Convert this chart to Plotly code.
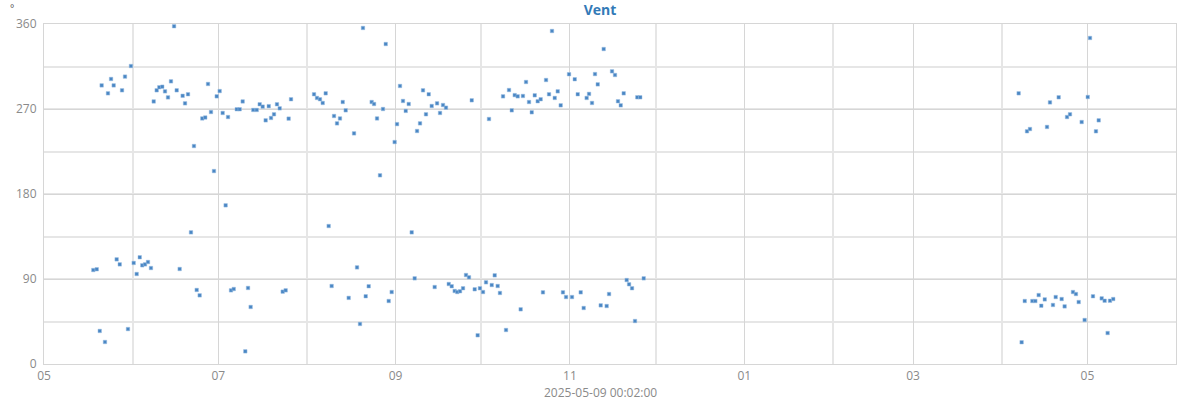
import plotly.graph_objects as go

title_text = "Vent"
unit_label = "°"
axis_title = "2025-05-09 00:02:00"

times_2024 = [
    "2024-05-18 06:00", "2024-05-19 11:00", "2024-05-20 12:00", "2024-05-21 04:00", "2024-05-22 08:00",
    "2024-05-23 09:00", "2024-05-24 11:00", "2024-05-25 09:00", "2024-05-26 10:00", "2024-05-27 12:00",
    "2024-05-28 07:00", "2024-05-29 08:00", "2024-05-30 09:00", "2024-05-31 10:00", "2024-06-01 09:00",
    "2024-06-02 10:00", "2024-06-03 12:00", "2024-06-04 09:00", "2024-06-05 08:00", "2024-06-06 09:00",
    "2024-06-07 10:00", "2024-06-08 09:00", "2024-06-09 10:00", "2024-06-10 08:00", "2024-06-11 09:00",
    "2024-06-12 08:00", "2024-06-13 09:00", "2024-06-14 10:00", "2024-06-15 12:00", "2024-06-16 10:00",
    "2024-06-17 11:00", "2024-06-18 12:00", "2024-06-19 08:00", "2024-06-20 09:00", "2024-06-21 10:00",
    "2024-06-22 11:00", "2024-06-23 10:00", "2024-06-24 11:00", "2024-06-25 09:00", "2024-06-26 10:00",
    "2024-06-27 09:00", "2024-06-28 10:00", "2024-06-29 11:00", "2024-06-30 10:00", "2024-07-01 11:00",
    "2024-07-02 12:00", "2024-07-03 13:00", "2024-07-04 09:00", "2024-07-05 10:00", "2024-07-06 09:00",
    "2024-07-07 10:00", "2024-07-08 11:00", "2024-07-09 12:00", "2024-07-10 10:00", "2024-07-11 09:00",
    "2024-07-12 07:00", "2024-07-13 05:00", "2024-07-14 10:00", "2024-07-15 11:00", "2024-07-16 12:00",
    "2024-07-17 13:00", "2024-07-18 15:00", "2024-07-19 10:00", "2024-07-20 11:00", "2024-07-21 12:00",
    "2024-07-22 11:00", "2024-07-23 12:00", "2024-07-24 13:00", "2024-07-25 14:00", "2024-07-26 10:00",
    "2024-08-03 11:00", "2024-08-04 12:00", "2024-08-05 13:00", "2024-08-06 12:00", "2024-08-07 13:00",
    "2024-08-08 14:00", "2024-08-09 15:00", "2024-08-10 11:00", "2024-08-11 12:00", "2024-08-12 13:00",
    "2024-08-13 12:00", "2024-08-14 13:00", "2024-08-15 14:00", "2024-08-17 11:00", "2024-08-18 12:00",
    "2024-08-19 13:00", "2024-08-20 14:00", "2024-08-21 13:00", "2024-08-22 14:00", "2024-08-23 15:00",
    "2024-08-24 11:00", "2024-08-25 12:00", "2024-08-26 13:00", "2024-08-27 14:00", "2024-08-28 13:00",
    "2024-08-29 14:00", "2024-08-30 15:00", "2024-08-31 16:00", "2024-09-01 12:00", "2024-09-02 13:00",
    "2024-09-03 14:00", "2024-09-04 13:00", "2024-09-05 14:00", "2024-09-06 15:00", "2024-09-07 16:00",
    "2024-09-08 12:00", "2024-09-09 13:00", "2024-09-10 14:00", "2024-09-11 15:00", "2024-09-12 14:00",
    "2024-09-13 15:00", "2024-09-14 16:00", "2024-09-15 12:00", "2024-09-16 13:00", "2024-09-17 14:00",
    "2024-09-18 15:00", "2024-09-19 14:00", "2024-09-20 15:00", "2024-09-21 16:00", "2024-09-22 14:00",
    "2024-09-23 13:00", "2024-09-24 14:00", "2024-09-25 15:00", "2024-09-26 16:00", "2024-09-27 15:00",
    "2024-09-28 16:00", "2024-09-29 17:00", "2024-09-30 12:00", "2024-10-01 14:00", "2024-10-02 15:00",
    "2024-10-03 16:00", "2024-10-04 15:00", "2024-10-05 16:00", "2024-10-06 17:00", "2024-10-07 12:00",
    "2024-10-08 14:00", "2024-10-09 15:00", "2024-10-10 16:00", "2024-10-11 15:00", "2024-10-12 16:00",
    "2024-10-13 17:00", "2024-10-14 18:00", "2024-10-15 13:00", "2024-10-16 15:00", "2024-10-17 16:00",
    "2024-10-18 15:00", "2024-10-19 16:00", "2024-10-20 17:00", "2024-10-21 18:00", "2024-10-22 13:00",
    "2024-10-23 15:00", "2024-10-24 16:00", "2024-10-25 17:00", "2024-10-26 16:00", "2024-10-27 17:00",
    "2024-10-28 18:00", "2024-10-29 13:00", "2024-10-30 15:00", "2024-10-31 16:00", "2024-11-01 17:00",
    "2024-11-02 16:00", "2024-11-03 17:00", "2024-11-04 18:00", "2024-11-05 19:00", "2024-11-06 20:00",
    "2024-11-07 16:00", "2024-11-08 17:00", "2024-11-09 18:00", "2024-11-10 17:00", "2024-11-11 18:00",
    "2024-11-12 19:00", "2024-11-13 20:00", "2024-11-14 16:00", "2024-11-15 17:00", "2024-11-16 18:00",
    "2024-11-17 19:00", "2024-11-18 18:00", "2024-11-19 19:00", "2024-11-20 20:00", "2024-11-21 16:00",
    "2024-11-22 17:00", "2024-11-23 18:00", "2024-11-24 13:00", "2024-11-25 14:00", "2024-11-26 19:00",
]

values_2024 = [
    99.5, 100.3, 35, 295, 23.3, 286.6, 301.8, 295, 110.8, 105.5,
    289.8, 304.3, 37, 315.5, 107, 95.3, 113, 104.5, 105.5, 108,
    101.6, 278, 289.8, 293, 293.6, 288.7, 282.3, 299.3, 357.6, 289.8,
    100.6, 284, 276, 285.6, 139.4, 230.8, 78.4, 72.7, 260, 261,
    296.5, 266.8, 204.3, 283.4, 289, 265.8, 168, 261.5, 78, 79.4,
    269.7, 269.7, 278, 13.4, 80.5, 60.4, 269, 269, 275, 272.5,
    258, 273, 260.5, 264.4, 275, 270.7, 76.6, 78, 259.8, 280.3,
    285.6, 281.7, 280.3, 276.4, 286.6, 146.1, 82.6, 262.6, 254.8, 260,
    277.4, 268.6, 70, 244.2, 102.3, 42.4, 355.8, 71.7, 82.3, 277.4,
    275.3, 260, 199.8, 270, 338.8, 66.7, 76.2, 235, 254, 294.4,
    278.5, 268, 275.3, 139.4, 90.7, 246.7, 254.8, 289.8, 264.4, 285.6,
    273.2, 81.5, 276, 265.8, 274.2, 271.4, 84.7, 82.3, 77.3, 76.2,
    77, 80.2, 94.2, 91.8, 279.2, 79.1, 30.4, 80.2, 76.2, 86.5,
    259.4, 83.6, 93.9, 82.6, 75.2, 283.4, 36, 290.1, 268.6, 284.7,
    283.4, 57.9, 283.8, 298.6, 277.4, 266.5, 284.5, 278.2, 280.3, 75.9,
    300.7, 285.6, 352.6, 281.7, 288.7, 273.9, 75.9, 70.9, 306.8, 70.9,
    301.5, 285.6, 75.9, 59.3, 281.7, 286, 276.4, 307, 296.1, 62.1,
    333.5, 61.4, 74.1, 309.9, 306, 278.2, 273.9, 286.6, 88.9, 84.4,
    80.2, 45.5, 282.4, 282.4, 90.7,
]

times_2025 = [
    "2025-04-06 23:00", "2025-04-08 00:00", "2025-04-09 02:00", "2025-04-09 21:00", "2025-04-10 22:00",
    "2025-04-11 18:00", "2025-04-12 19:00", "2025-04-13 23:00", "2025-04-14 21:00", "2025-04-16 02:00",
    "2025-04-16 21:00", "2025-04-17 22:00", "2025-04-18 23:00", "2025-04-19 22:00", "2025-04-20 23:00",
    "2025-04-22 00:00", "2025-04-23 01:00", "2025-04-23 21:00", "2025-04-24 22:00", "2025-04-25 23:00",
    "2025-04-27 00:00", "2025-04-27 23:00", "2025-04-29 00:00", "2025-04-30 01:00", "2025-05-01 03:00",
    "2025-05-01 22:00", "2025-05-02 23:00", "2025-05-04 00:00", "2025-05-04 23:00", "2025-05-06 00:00",
    "2025-05-07 01:00", "2025-05-08 02:00", "2025-05-08 22:00", "2025-05-10 01:00",
]

values_2025 = [
    286.6, 23, 66.7, 246.4, 248.8, 66.7, 66.7, 73, 61.7, 68.4,
    251, 277, 62.5, 70.9, 282.4, 68.8, 61, 261.5, 264.4, 76.2,
    74.1, 65.6, 256.2, 46.6, 282.7, 345.2, 71.7, 246.4, 258, 69.5,
    67, 32.8, 67, 68.8,
]

y_ticks = [0, 90, 180, 270, 360]

x_all = times_2024 + times_2025
y_all = values_2024 + values_2025

font_family = "Open Sans, Noto Sans, sans-serif"
major_grid = "#d6d6d6"
minor_grid = "#e6e6e6"
label_color = "#8a8a8a"

fig = go.Figure()
fig.add_trace(go.Scatter(
    x=x_all, y=y_all, mode="markers",
    marker=dict(symbol="square", size=3.5, color="#4a87c4",
                line=dict(width=0.5, color="#9cbfe2")),
    hoverinfo="x+y", showlegend=False,
))

fig.update_layout(
    width=1200, height=400,
    margin=dict(l=44, r=24, t=24, b=36, autoexpand=False),
    paper_bgcolor="white", plot_bgcolor="white",
    font=dict(family=font_family, color=label_color, size=12),
    title=dict(text="<b>" + title_text + "</b>", x=0.5, xanchor="center",
               y=0.975, yanchor="middle", yref="container",
               font=dict(family=font_family, size=14, color="#337ab7")),
    annotations=[
        dict(text=unit_label, xref="paper", yref="paper",
             x=-0.028, y=1.047, xanchor="center", yanchor="middle",
             showarrow=False, font=dict(size=10, color="#555")),
        dict(text=axis_title, xref="paper", yref="paper",
             x=0.4912, y=-0.0824, xanchor="center", yanchor="middle",
             showarrow=False, borderpad=0,
             font=dict(size=12, color=label_color)),
    ],
)

fig.update_xaxes(
    type="date", range=["2024-05-01", "2025-06-01"],
    tick0="2024-05-01", dtick="M2", tickformat="%m",
    showgrid=True, gridcolor=major_grid, gridwidth=1,
    minor=dict(dtick="M1", tick0="2024-05-01", showgrid=True,
               gridcolor=minor_grid, gridwidth=2),
    showline=True, linecolor=major_grid, linewidth=1, mirror=True,
    ticks="outside", ticklen=1, tickcolor="rgba(0,0,0,0)",
    tickfont=dict(size=12, color=label_color),
    zeroline=False, automargin=False,
)

fig.update_yaxes(
    range=[0, 360], tickvals=y_ticks,
    showgrid=True, gridcolor=major_grid, gridwidth=1,
    minor=dict(dtick=45, tick0=0, showgrid=True,
               gridcolor=minor_grid, gridwidth=2),
    showline=True, linecolor=major_grid, linewidth=1, mirror=True,
    ticks="outside", ticklen=4, tickcolor="rgba(0,0,0,0)",
    tickfont=dict(size=12, color=label_color),
    zeroline=False, automargin=False,
)

fig.write_html("out.html", config={"displayModeBar": False},
               post_script="document.body.style.margin='0';")
